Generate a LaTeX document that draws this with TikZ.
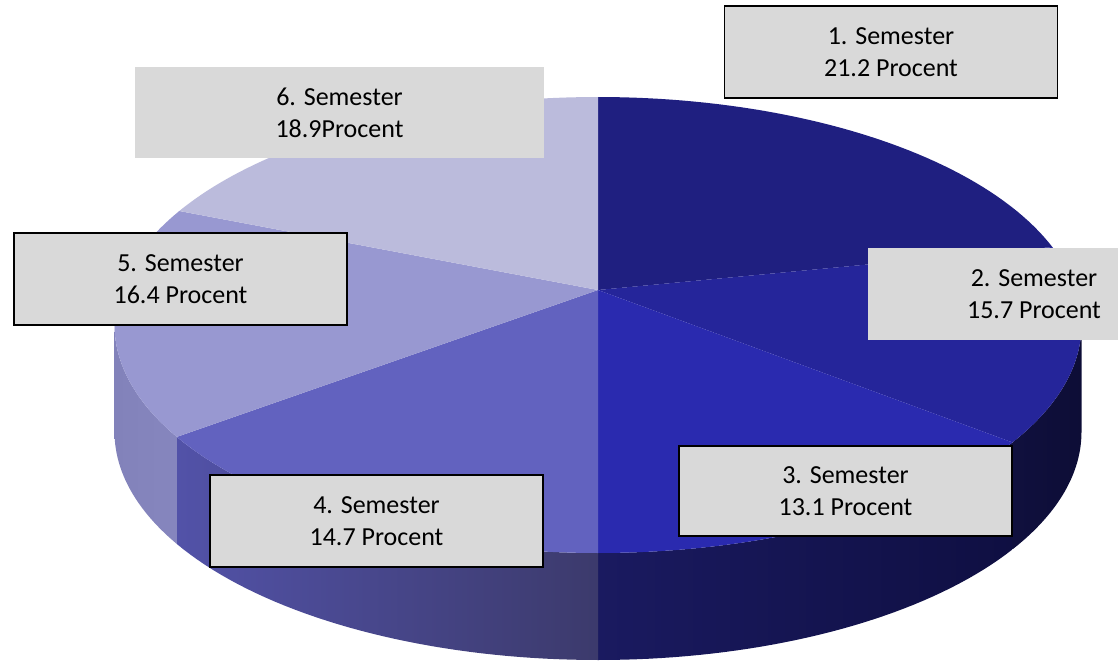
\documentclass[tikz,border=0pt]{standalone}
\usepackage{fontspec}
\setmainfont{Carlito}

% slice colours
\definecolor{semOne}{HTML}{1F1F80}
\definecolor{semTwo}{HTML}{25259A}
\definecolor{semThree}{HTML}{2A2AAF}
\definecolor{semFour}{HTML}{6262BF}
\definecolor{semFive}{HTML}{9898D1}
\definecolor{semSix}{HTML}{BBBBDC}
% side colours
\definecolor{sideTwoL}{HTML}{10103E}
\definecolor{sideTwoR}{HTML}{0D0D36}
\definecolor{sideThreeL}{HTML}{1A1A60}
\definecolor{sideThreeR}{HTML}{0F0F42}
\definecolor{sideFourL}{HTML}{5252A8}
\definecolor{sideFourR}{HTML}{3C3A6C}
\definecolor{sideFiveL}{HTML}{8282BA}
\definecolor{sideFiveR}{HTML}{8686BE}
\definecolor{boxgray}{HTML}{D9D9D9}

\tikzset{
	lbl/.style={fill=boxgray, draw=black, line width=1.5pt, inner sep=0pt,
		minimum width=333pt, minimum height=92pt, align=center,
		font=\fontsize{26}{32}\selectfont},
	lblplain/.style={lbl, draw=none}
}

\begin{document}
\begin{tikzpicture}[x=1pt, y=-1pt]
	\useasboundingbox (0,0) rectangle (1118,663);

	% side walls
	\foreach \a/\b/\cl/\cr in {0/31/sideTwoL/sideTwoR, 31/90/sideThreeL/sideThreeR, 90/150.6/sideFourL/sideFourR, 150.6/180/sideFiveL/sideFiveR}
		\shade[left color=\cl, right color=\cr]
			plot[domain=\a:\b, samples=40] ({598+483.5*cos(\x)}, {325+228*sin(\x)})
			-- plot[domain=\b:\a, samples=40] ({598+483.5*cos(\x)}, {432+228*sin(\x)}) -- cycle;

	% top slices
	\foreach \a/\b/\col in {-90/-20/semOne, -20/31/semTwo, 31/90/semThree, 90/150.6/semFour, 150.6/210/semFive, 210/270/semSix}
		\fill[\col] (598,290) -- plot[domain=\a:\b, samples=50] ({598+483.5*cos(\x)}, {325+228*sin(\x)}) -- cycle;

	% labels
	\node[lbl] (sem1) at (891,52) {1. Semester\\21.2 Procent};
	\node[lblplain] (sem2) at (1034,294) {2. Semester\\15.7 Procent};
	\node[lbl, minimum height=90pt] (sem3) at (845.5,491) {3. Semester\\13.1 Procent};
	\node[lbl] (sem4) at (376.5,521) {4. Semester\\14.7 Procent};
	\node[lbl] (sem5) at (180.5,279) {5. Semester\\16.4 Procent};
	\node[lblplain, minimum width=409pt, minimum height=91pt] (sem6) at (339.5,112.5) {6. Semester\\18.9Procent};
\end{tikzpicture}
\end{document}
